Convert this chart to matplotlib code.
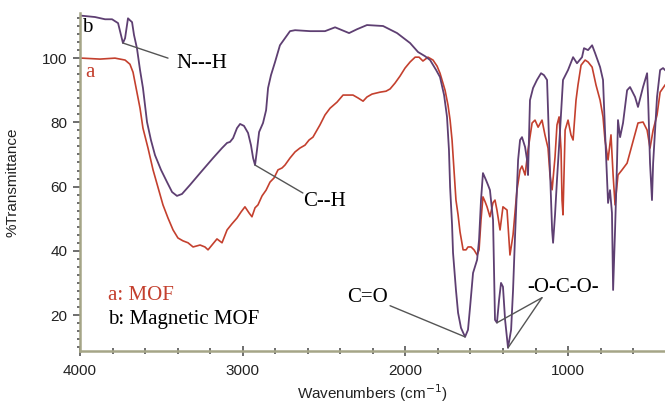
import matplotlib
matplotlib.use("Agg")
import matplotlib.pyplot as plt
from matplotlib.ticker import MultipleLocator

# Magnetic MOF (curve b)
wn_b = [3988, 3908, 3846, 3803, 3766, 3748, 3736, 3723, 3705, 3693, 3680, 3668, 3650, 3631,
        3613, 3588, 3564, 3539, 3502, 3465, 3434, 3404, 3373, 3324, 3262, 3182, 3127, 3096,
        3078, 3059, 3035, 3016, 2992, 2967, 2949, 2936, 2924, 2912, 2899, 2875, 2856, 2844,
        2826, 2801, 2771, 2740, 2709, 2678, 2586, 2494, 2432, 2389, 2346, 2297, 2236, 2137,
        2051, 1971, 1922, 1879, 1848, 1811, 1787, 1762, 1744, 1732, 1725, 1713, 1707, 1689,
        1676, 1658, 1633, 1615, 1602, 1584, 1559, 1547, 1535, 1523, 1504, 1492, 1480, 1461,
        1449, 1437, 1424, 1412, 1400, 1387, 1369, 1350, 1338, 1326, 1307, 1295, 1283, 1264,
        1252, 1246, 1234, 1215, 1191, 1166, 1148, 1129, 1123, 1111, 1098, 1092, 1080, 1068,
        1049, 1031, 1000, 969, 945, 914, 902, 877, 852, 834, 803, 785, 773, 760, 754, 742,
        730, 723, 711, 699, 693, 680, 662, 637, 619, 588, 570, 539, 514, 508, 496, 484, 477,
        453, 434, 416, 404]
t_b = [113.2, 112.8, 112.1, 112.1, 110.9, 107.2, 104.7, 106.2, 112.4, 111.8, 111.2, 107.2, 103.1, 96.3,
       90.7, 80.1, 74.5, 69.8, 65.2, 61.4, 58.3, 57.1, 57.7, 60.5, 64.2, 68.9, 72.0, 73.6,
       73.9, 75.1, 78.2, 79.5, 78.9, 76.7, 72.9, 68.9, 66.7, 71.4, 77.0, 79.8, 83.8, 90.7,
       94.7, 98.8, 104.0, 106.2, 108.4, 108.7, 108.4, 108.4, 109.6, 108.7, 107.8, 109.0, 110.3, 110.0,
       107.8, 104.7, 101.9, 100.6, 99.4, 96.3, 94.1, 88.5, 81.7, 71.4, 59.9, 48.1, 39.4, 27.8,
       20.7, 16.0, 13.2, 15.4, 22.6, 33.1, 37.2, 43.4, 55.8, 64.2, 62.0, 60.5, 58.9, 49.6,
       18.5, 17.6, 24.7, 30.0, 28.8, 18.5, 9.8, 15.4, 27.8, 44.3, 68.3, 74.5, 75.4, 72.3,
       68.3, 63.6, 86.9, 90.7, 93.2, 95.3, 94.7, 93.2, 83.8, 65.2, 46.5, 42.5, 51.2, 62.1,
       77.6, 93.2, 96.3, 100.3, 98.4, 100.3, 103.1, 102.5, 104.0, 101.6, 97.2, 93.2, 77.6, 62.1, 54.9, 58.9,
       51.8, 27.8, 46.5, 67.3, 80.7, 75.4, 79.8, 90.0, 91.0, 87.9, 84.8, 91.0, 95.3, 87.9, 67.3, 55.8, 67.3,
       87.9, 96.3, 96.9, 96.3]

# MOF (curve a)
wn_a = [3988, 3877, 3785, 3723, 3693, 3674, 3650, 3631, 3613, 3582, 3551, 3520, 3490, 3459,
        3428, 3398, 3367, 3336, 3305, 3262, 3232, 3213, 3189, 3158, 3127, 3096, 3066, 3035,
        3010, 2986, 2961, 2943, 2924, 2906, 2881, 2856, 2832, 2807, 2783, 2758, 2740, 2709,
        2678, 2648, 2617, 2592, 2568, 2543, 2525, 2494, 2463, 2420, 2383, 2353, 2322, 2291,
        2260, 2236, 2205, 2156, 2119, 2094, 2064, 2033, 2002, 1971, 1940, 1916, 1892, 1861,
        1830, 1805, 1787, 1756, 1738, 1725, 1713, 1701, 1689, 1676, 1664, 1645, 1627, 1615,
        1596, 1578, 1559, 1547, 1535, 1523, 1510, 1498, 1480, 1461, 1449, 1437, 1418, 1400,
        1375, 1357, 1338, 1314, 1295, 1283, 1264, 1246, 1221, 1203, 1184, 1160, 1142, 1123,
        1111, 1098, 1080, 1068, 1055, 1043, 1037, 1031, 1018, 1000, 982, 969, 951, 939, 920,
        895, 877, 852, 828, 803, 785, 773, 754, 736, 723, 711, 693, 668, 637, 607, 570, 539,
        514, 496, 477, 453, 434, 404]
t_a = [100.0, 99.7, 100.0, 99.4, 98.1, 95.6, 89.4, 84.4, 78.2, 72.0, 65.2, 59.6, 54.3, 50.2,
       46.5, 44.0, 43.1, 42.5, 41.2, 41.8, 41.2, 40.3, 41.8, 43.7, 42.5, 46.5, 48.4, 50.2,
       52.1, 53.7, 51.8, 50.6, 53.4, 54.3, 57.1, 58.9, 61.4, 62.7, 65.2, 65.8, 66.7, 68.9,
       70.8, 72.0, 72.9, 74.5, 75.4, 77.6, 79.2, 82.3, 84.4, 86.3, 88.5, 88.5, 88.5, 87.6,
       86.6, 87.9, 88.8, 89.4, 89.7, 90.4, 92.2, 94.4, 96.9, 98.8, 100.3, 100.3, 99.1, 100.3,
       99.4, 97.5, 95.3, 90.0, 85.4, 80.7, 74.5, 65.2, 55.8, 51.2, 45.9, 40.3, 40.3, 41.2,
       41.2, 40.3, 38.7, 40.3, 49.6, 56.8, 55.3, 53.7, 50.6, 55.0, 55.8, 52.7, 46.5, 53.7,
       52.7, 38.7, 45.0, 58.9, 65.2, 66.4, 63.6, 71.4, 79.8, 80.7, 78.5, 80.7, 76.1, 72.0,
       63.6, 59.0, 69.2, 79.2, 81.7, 71.4, 55.8, 51.2, 77.6, 80.7, 76.1, 74.5, 86.9, 91.6, 97.8,
       99.4, 98.8, 97.2, 91.6, 86.9, 81.7, 74.5, 68.3, 76.1, 63.6, 54.3, 63.6, 65.2, 67.3, 72.9, 79.8, 80.1,
       77.6, 72.0, 77.6, 82.3, 89.4, 91.6]

x_ticks = [4000, 3000, 2000, 1000]
y_ticks = [20, 40, 60, 80, 100]

purple = "#5e3f72"
red = "#c4402e"
axis_col = "#a5a587"

fig = plt.figure(figsize=(6.65, 4.09), dpi=100)
ax = fig.add_axes([0.1203, 0.1418, 0.8797, 0.826])
ax.plot(wn_a, t_a, color=red, lw=1.2)
ax.plot(wn_b, t_b, color=purple, lw=1.3)

ax.set_xlim(4000, 404)
ax.set_ylim(8.8, 114)
ax.set_xticks(x_ticks)
ax.set_yticks(y_ticks)
ax.xaxis.set_minor_locator(MultipleLocator(200))
ax.yaxis.set_minor_locator(MultipleLocator(2.5))
for s in ["top", "right"]:
    ax.spines[s].set_visible(False)
for s in ["left", "bottom"]:
    ax.spines[s].set_color(axis_col)
    ax.spines[s].set_linewidth(1.8)
ax.tick_params(axis="x", which="major", direction="inout", length=7, width=1.2, color="#555555",
               labelsize=11, pad=6)
ax.tick_params(axis="x", which="minor", direction="inout", length=4, width=1.2, color="#555555")
ax.tick_params(axis="y", which="major", direction="out", length=5, width=1.2, color="#555555",
               labelsize=11, pad=4)
ax.tick_params(axis="y", which="minor", direction="out", length=2, width=1.2, color="#555555")
for lab in ax.get_xticklabels() + ax.get_yticklabels():
    lab.set_fontfamily("Liberation Sans")
    lab.set_color("#222222")

ax.set_xlabel("Wavenumbers (cm$^{-1}$)", fontsize=11, family="Liberation Sans", color="#222222", labelpad=3)
ax.set_ylabel("%Transmittance", fontsize=11, family="Liberation Sans", color="#222222", labelpad=16)

serif = "Liberation Serif"
fs = 15
ax.text(3955, 109.4, "b", fontsize=fs, family=serif, color="black", va="center", ha="center")
ax.text(3940, 95.4, "a", fontsize=fs, family=serif, color=red, va="center", ha="center")

line_kw = dict(arrowstyle="-", color="#555555", lw=1.0, shrinkA=0, shrinkB=0)
# N---H
ax.text(3410, 98.4, "N---H", fontsize=fs, family=serif, va="center", ha="left")
ax.annotate("", xy=(3736, 104.7), xytext=(3459, 100.0), arrowprops=line_kw)
# C--H
ax.text(2630, 55.4, "C--H", fontsize=fs, family=serif, va="center", ha="left")
ax.annotate("", xy=(2924, 66.7), xytext=(2630, 58.0), arrowprops=line_kw)
# C=O
ax.text(2230, 25.4, "C=O", fontsize=fs, family=serif, va="center", ha="center")
ax.annotate("", xy=(1633, 13.2), xytext=(2094, 22.9), arrowprops=line_kw)
# -O-C-O-
ax.text(1031, 28.5, "-O-C-O-", fontsize=fs, family=serif, va="center", ha="center")
ax.annotate("", xy=(1437, 17.6), xytext=(1160, 25.4), arrowprops=line_kw)
ax.annotate("", xy=(1369, 9.8), xytext=(1160, 25.4), arrowprops=line_kw)

ax.text(3830, 26.2, "a: MOF", fontsize=fs, family=serif, color=red, va="center", ha="left")
ax.text(3830, 18.6, "b: Magnetic MOF", fontsize=fs, family=serif, color="black", va="center", ha="left")

fig.savefig("out.png", dpi=100)
